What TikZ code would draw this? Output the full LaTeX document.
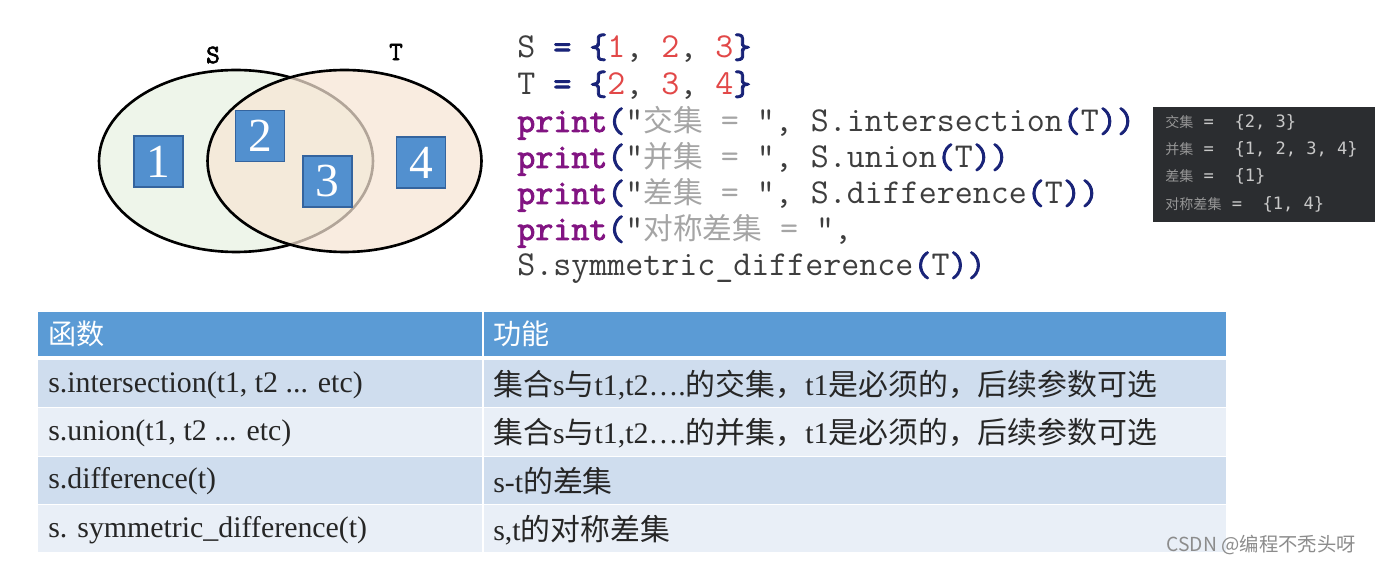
\documentclass[tikz,border=0pt]{standalone}
\usepackage{fontspec}
\setmainfont{Liberation Serif}
\setmonofont{Latin Modern Mono}[BoldFont={Latin Modern Mono}, BoldFeatures={FakeBold=2.5}]
\newfontfamily\cjkfont{Noto Sans CJK SC}
\newfontfamily\outmono{DejaVu Sans Mono}
\usetikzlibrary{shapes.geometric, positioning}

\definecolor{setgreen}{RGB}{238,245,234}
\definecolor{setpeach}{RGB}{247,230,213}
\definecolor{boxblue}{RGB}{82,144,207}
\definecolor{boxedge}{RGB}{52,100,158}
\definecolor{codegrey}{RGB}{62,62,62}
\definecolor{kwpurple}{RGB}{130,20,130}
\definecolor{brnavy}{RGB}{25,35,120}
\definecolor{numred}{RGB}{226,72,72}
\definecolor{strgrey}{RGB}{165,165,165}
\definecolor{outbg}{RGB}{43,45,48}
\definecolor{outtext}{RGB}{200,200,200}
\definecolor{outdim}{RGB}{150,150,150}
\definecolor{headblue}{RGB}{91,155,213}
\definecolor{rowdark}{RGB}{207,221,238}
\definecolor{rowlight}{RGB}{233,239,247}
\definecolor{markgrey}{RGB}{140,140,140}

\newcommand{\zh}[1]{{\cjkfont #1}}
\newcommand{\zhc}[1]{{\cjkfont\fontsize{16.9}{20}\selectfont #1}}
\newcommand{\outzh}[1]{\textcolor{outdim}{\cjkfont\fontsize{8}{10}\selectfont #1}}
\newcommand{\kw}[1]{\textcolor{kwpurple}{\bfseries #1}}
\newcommand{\pn}[1]{\textcolor{brnavy}{\bfseries #1}}
\newcommand{\nm}[1]{\textcolor{numred}{#1}}
\newcommand{\strg}[1]{\textcolor{strgrey}{#1}}

\tikzset{
	setshape/.style={
		ellipse,
		draw=black,
		line width=1.5pt,
		minimum width=5.48cm,
		minimum height=3.64cm,
		inner sep=0pt
	},
	numbox/.style={
		rectangle,
		draw=boxedge,
		line width=0.6pt,
		fill=boxblue,
		minimum width=0.98cm,
		minimum height=1.02cm,
		inner sep=0pt,
		text=white,
		font=\fontsize{27}{27}\selectfont
	},
	setname/.style={
		inner sep=0pt,
		font=\ttfamily\bfseries\fontsize{15}{15}\selectfont
	},
	code/.style={
		anchor=base west,
		inner sep=0pt,
		text=codegrey,
		font=\ttfamily\fontsize{19.9}{22}\selectfont
	},
	result/.style={
		anchor=base west,
		inner sep=0pt,
		text=outtext,
		font=\outmono\fontsize{9.7}{12}\selectfont
	},
	cell/.style={
		anchor=west,
		inner sep=0pt,
		text=black!85,
		font=\fontsize{17}{20}\selectfont
	},
	headcell/.style={
		anchor=west,
		inner sep=0pt,
		text=white,
		font=\cjkfont\fontsize{16}{20}\selectfont
	}
}

\begin{document}
\begin{tikzpicture}[x=0.02cm, y=-0.02cm]

		\fill [white] (0,0) rectangle (1375,563);
		\useasboundingbox (0,0) rectangle (1375,563);

		% venn diagram
		\node (setS) [setshape, fill=setgreen]                     at (236,161)   {};
		\node (setT) [setshape, fill=setpeach, fill opacity=0.72]  at (344.5,161) {};
		\node (labS) [setname] at (213,55) {S};
		\node (labT) [setname] at (396,52) {T};
		\node (n1) [numbox] at (158.5,161.5) {1};
		\node (n2) [numbox] at (260,136)     {2};
		\node (n3) [numbox] at (327.5,181.5) {3};
		\node (n4) [numbox] at (421,162.5)   {4};

		% code
		\node (c1) [code] at (517,58)  {S \pn{=} \pn{\{}\nm{1}, \nm{2}, \nm{3}\pn{\}}};
		\node (c2) [code] at (517,95)  {T \pn{=} \pn{\{}\nm{2}, \nm{3}, \nm{4}\pn{\}}};
		\node (c3) [code] at (517,132) {\kw{print}\pn{(}"\strg{\zhc{交集} = }", S.intersection\pn{(}T\pn{))}};
		\node (c4) [code] at (517,168) {\kw{print}\pn{(}"\strg{\zhc{并集} = }", S.union\pn{(}T\pn{))}};
		\node (c5) [code] at (517,204) {\kw{print}\pn{(}"\strg{\zhc{差集} = }", S.difference\pn{(}T\pn{))}};
		\node (c6) [code] at (517,240) {\kw{print}\pn{(}"\strg{\zhc{对称差集} = }",};
		\node (c7) [code] at (517,276) {S.symmetric\_difference\pn{(}T\pn{))}};

		% console output
		\node (outbox) [rectangle, fill=outbg, minimum width=4.44cm, minimum height=2.3cm] at (1264,164.5) {};
		\node (o1) [result] at (1165,128) {\outzh{交集} =\ \ \{2, 3\}};
		\node (o2) [result] at (1165,155) {\outzh{并集} =\ \ \{1, 2, 3, 4\}};
		\node (o3) [result] at (1165,182) {\outzh{差集} =\ \ \{1\}};
		\node (o4) [result] at (1165,210) {\outzh{对称差集} =\ \ \{1, 4\}};

		% table
		\fill [headblue] (38,312) rectangle (1226,356);
		\fill [rowdark]  (38,360) rectangle (1226,407);
		\fill [rowlight] (38,408) rectangle (1226,456);
		\fill [rowdark]  (38,457) rectangle (1226,504);
		\fill [rowlight] (38,505) rectangle (1226,552);
		\draw [white, line width=1.2pt] (483,312) -- (483,552);

		\node (h1) [headcell] at (48,334)  {函数};
		\node (h2) [headcell] at (493,334) {功能};
		\node (f1) [cell] at (48,385)  {s.intersection(t1, t2 ... etc)};
		\node (g1) [cell] at (493,385) {\zh{集合}s\zh{与}t1,t2….\zh{的交集，}t1\zh{是必须的，后续参数可选}};
		\node (f2) [cell] at (48,433)  {s.union(t1, t2 ... etc)};
		\node (g2) [cell] at (493,433) {\zh{集合}s\zh{与}t1,t2….\zh{的并集，}t1\zh{是必须的，后续参数可选}};
		\node (f3) [cell] at (48,481)  {s.difference(t)};
		\node (g3) [cell] at (493,481) {s-t\zh{的差集}};
		\node (f4) [cell] at (48,530)  {s. symmetric\_difference(t)};
		\node (g4) [cell] at (493,530) {s,t\zh{的对称差集}};

		% watermark
		\node (mark) [anchor=east, text=markgrey, font=\cjkfont\fontsize{11}{13}\selectfont] at (1362,545) {CSDN @编程不秃头呀};

	\end{tikzpicture}
\end{document}
